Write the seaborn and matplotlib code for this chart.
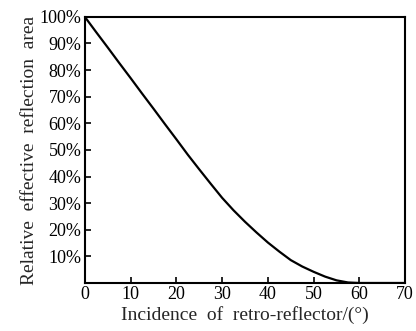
import matplotlib
matplotlib.use("Agg")
import matplotlib.pyplot as plt
import seaborn as sns
import pandas as pd
from matplotlib.ticker import FixedLocator

# values
angle = [0, 2.5, 5, 7.5, 10, 12.5, 15, 17.5, 20, 22.5, 25, 27.5, 30, 32.5, 35,
         37.5, 40, 42.5, 45, 47.5, 50, 52.5, 55, 57.5, 60, 70]
area = [100, 94.2, 88.5, 82.7, 77, 71.2, 65.5, 59.7, 54, 48.2, 42.7, 37.3, 32,
        27.3, 23, 19, 15.2, 11.8, 8.6, 6.2, 4.2, 2.4, 1.0, 0.2, 0, 0]

x_ticks = [0, 10, 20, 30, 40, 50, 60, 70]
y_ticks = [10, 20, 30, 40, 50, 60, 70, 80, 90, 100]
y_labels = [f"{v}%" for v in y_ticks]

df = pd.DataFrame({"angle": angle, "area": area})

sns.set_theme(style="ticks")
plt.rcParams["font.family"] = ["Liberation Serif", "DejaVu Serif"]

fig = plt.figure(figsize=(4.16, 3.31), dpi=100)
ax = fig.add_axes([0.204, 0.145, 0.77, 0.804])

sns.lineplot(data=df, x="angle", y="area", color="black", linewidth=1.6, ax=ax)

ax.set_xlim(0, 70)
ax.set_ylim(0, 100)
ax.xaxis.set_major_locator(FixedLocator(x_ticks))
ax.set_yticks(y_ticks)
ax.set_yticklabels(y_labels)
ax.tick_params(direction="in", length=4, width=1.2, labelsize=13, colors="black", pad=2.5)

for s in ax.spines.values():
    s.set_linewidth(1.5)
    s.set_color("black")

ax.set_xlabel("Incidence  of  retro-reflector/(°)", fontsize=14, labelpad=2)
ax.set_ylabel("Relative  effective  reflection  area", fontsize=14, labelpad=1)

fig.savefig("out.png", dpi=100)
